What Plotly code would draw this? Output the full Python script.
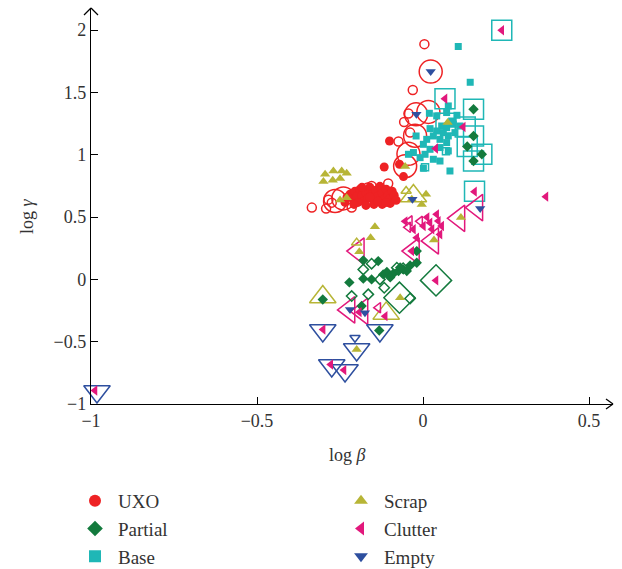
import plotly.graph_objects as go

# ---------------- data (log beta, log gamma) ----------------
# UXO
uxo_x = [-0.101, -0.117, -0.071, -0.059, -0.229, -0.220, -0.211, -0.205, -0.199, -0.190, -0.184, -0.178,
         -0.172, -0.166, -0.160, -0.154, -0.148, -0.142, -0.136, -0.130, -0.123, -0.117, -0.111, -0.105,
         -0.099, -0.093, -0.087, -0.196, -0.172, -0.148, -0.123, -0.099, -0.208, -0.160, -0.136, -0.111,
         -0.184, -0.081, -0.235]
uxo_y = [1.111, 0.902, 0.924, 0.825, 0.659, 0.683, 0.643, 0.707, 0.667, 0.723, 0.675, 0.627,
         0.699, 0.651, 0.739, 0.683, 0.635, 0.715, 0.667, 0.747, 0.691, 0.643, 0.723, 0.675,
         0.651, 0.707, 0.675, 0.618, 0.594, 0.602, 0.602, 0.610, 0.602, 0.659, 0.627, 0.618,
         0.739, 0.635, 0.618]
uxo_open_x = [0.004, -0.031, -0.057, -0.044, -0.074, -0.039, -0.105, -0.335, -0.292, -0.275, -0.215,
              -0.155, -0.167, -0.285]
uxo_open_y = [1.888, 1.520, 1.263, 1.331, 1.106, 1.178, 0.769, 0.576, 0.568, 0.616, 0.576,
              0.749, 0.737, 0.640]
uxo_ring_x = [0.023, -0.021, 0.016, -0.024, -0.044, -0.054, -0.265, -0.240]
uxo_ring_y = [1.668, 1.325, 1.344, 1.153, 1.008, 0.908, 0.629, 0.650]

# Partial
partial_x = [0.152, 0.152, 0.133, 0.177, 0.152, -0.180, -0.135, -0.222, -0.180, -0.155, -0.120, -0.109,
             -0.089, -0.074, -0.059, -0.049, -0.099, -0.019, -0.019, -0.185, -0.132, -0.302, -0.069, -0.039]
partial_y = [1.365, 1.151, 1.066, 1.004, 0.950, 0.153, 0.147, -0.024, 0.006, 0.000, 0.040, 0.059,
             0.048, 0.067, 0.080, 0.067, 0.016, 0.134, 0.227, -0.214, -0.410, -0.161, 0.096, 0.112]
partial_open_x = [-0.180, -0.155, -0.130, -0.117, -0.079, -0.215, -0.165, -0.039, -0.060]
partial_open_y = [0.080, 0.126, 0.000, -0.067, 0.094, -0.134, -0.120, -0.153, 0.090]
partial_ring_x = [0.039, -0.071]
partial_ring_y = [-0.008, -0.147]

# Base
base_x = [0.106, 0.142, 0.076, 0.019, 0.041, 0.071, 0.102, 0.086, 0.056, 0.071, 0.091, 0.111, 0.021,
          0.041, 0.061, 0.076, 0.096, -0.021, 0.011, 0.031, 0.051, 0.071, 0.001, 0.021, 0.051, 0.076,
          -0.029, -0.009, 0.031, 0.051, 0.001, 0.081, -0.044, 0.006]
base_y = [1.869, 1.582, 1.392, 1.333, 1.312, 1.339, 1.317, 1.271, 1.231, 1.218, 1.245, 1.231, 1.210,
          1.191, 1.178, 1.151, 1.178, 1.151, 1.124, 1.151, 1.124, 1.098, 1.084, 1.044, 1.058, 1.031,
          1.018, 0.977, 0.964, 0.950, 0.892, 0.870, 1.004, 1.004]
base_open_x = [0.069, 0.045, 0.006]
base_open_y = [1.028, 1.165, 0.900]
base_ring_x = [0.237, 0.066, 0.152, 0.069, 0.127, 0.152, 0.133, 0.177, 0.152, 0.155]
base_ring_y = [2.000, 1.450, 1.365, 1.253, 1.223, 1.151, 1.066, 1.004, 0.950, 0.707]

# Scrap
scrap_x = [-0.295, -0.270, -0.245, -0.230, -0.300, -0.272, -0.250, -0.250, -0.230, -0.054, 0.074,
           0.009, -0.004, -0.034, 0.114, 0.033, -0.145, -0.158, -0.192, -0.069, -0.200]
scrap_y = [0.843, 0.870, 0.870, 0.851, 0.785, 0.795, 0.809, 0.637, 0.656, 0.905, 1.259,
           0.683, 0.602, 0.643, 0.496, 0.317, 0.422, 0.335, 0.221, -0.147, -0.562]
scrap_open_x = [-0.051, -0.200]
scrap_open_y = [0.709, 0.295]
scrap_ring_x = [-0.029, -0.302, -0.111]
scrap_ring_y = [0.669, -0.141, -0.273]

# Clutter
clutter_x = [0.237, 0.066, 0.121, 0.038, 0.155, 0.370, -0.029, 0.001, 0.021, 0.046, 0.056, 0.041,
             -0.019, 0.051, -0.034, -0.054, 0.012, 0.027, 0.039, -0.114, -0.192, -0.301, -0.278,
             -0.238, -0.988]
clutter_y = [2.000, 1.450, 1.223, 1.050, 0.704, 0.664, 0.402, 0.428, 0.455, 0.468, 0.428, 0.522,
             0.335, 0.361, 0.227, 0.466, 0.498, 0.402, -0.008, -0.295, -0.263, -0.402, -0.683,
             -0.728, -0.892]
clutter_open_x = [-0.135, -0.045, -0.009, -0.040]
clutter_open_y = [-0.227, 0.418, 0.466, 0.470]
clutter_ring_x = [0.162, 0.108, 0.029, -0.029, -0.195, -0.223, -0.184]
clutter_ring_y = [0.576, 0.490, 0.309, 0.227, 0.227, -0.245, -0.257]

# Empty
empty_x = [0.023, -0.020, -0.032, 0.172, -0.220, -0.175]
empty_y = [1.668, 1.325, 0.643, 0.568, -0.241, -0.267]
empty_open_x = [-0.205]
empty_open_y = [-0.468]
empty_ring_x = [-0.302, -0.130, -0.200, -0.275, -0.235, -0.982]
empty_ring_y = [-0.410, -0.410, -0.562, -0.691, -0.731, -0.900]

x_ticks = [-1, -0.5, 0, 0.5]
x_tick_text = ["\u22121", "\u22120.5", "0", "0.5"]
y_ticks = [-1, -0.5, 0, 0.5, 1, 1.5, 2]
y_tick_text = ["\u22121", "\u22120.5", "0", "0.5", "1", "1.5", "2"]

# ---------------- styling ----------------
RED = "#ee2224"
GREEN = "#137a3d"
CYAN = "#1fb7b6"
OLIVE = "#b7b536"
MAGENTA = "#e2187c"
BLUE = "#2e4f9f"
FONT = "Liberation Serif"
TXT = "#333333"

classes = [
    ("UXO", "circle", RED, uxo_x, uxo_y, uxo_open_x, uxo_open_y, uxo_ring_x, uxo_ring_y, 9, 9, 23, "legend"),
    ("Partial", "diamond", GREEN, partial_x, partial_y, partial_open_x, partial_open_y, partial_ring_x, partial_ring_y, 8, 8, 24, "legend"),
    ("Base", "square", CYAN, base_x, base_y, base_open_x, base_open_y, base_ring_x, base_ring_y, 7, 7, 20, "legend"),
    ("Scrap", "triangle-up", OLIVE, scrap_x, scrap_y, scrap_open_x, scrap_open_y, scrap_ring_x, scrap_ring_y, 9, 9, 23, "legend2"),
    ("Clutter", "triangle-left", MAGENTA, clutter_x, clutter_y, clutter_open_x, clutter_open_y, clutter_ring_x, clutter_ring_y, 9, 9, 23, "legend2"),
    ("Empty", "triangle-down", BLUE, empty_x, empty_y, empty_open_x, empty_open_y, empty_ring_x, empty_ring_y, 9, 9, 23, "legend2"),
]

fig = go.Figure()

# large open markers first
for name, sym, col, fx, fy, ox, oy, rx, ry, fs, osz, rs, lg in classes:
    fig.add_trace(go.Scatter(x=rx, y=ry, mode="markers", showlegend=False, cliponaxis=False,
                             marker=dict(symbol=sym + "-open", size=rs, color=col,
                                         line=dict(width=1.5, color=col)),
                             hoverinfo="skip"))
# small open markers
for name, sym, col, fx, fy, ox, oy, rx, ry, fs, osz, rs, lg in classes:
    fig.add_trace(go.Scatter(x=ox, y=oy, mode="markers", showlegend=False, cliponaxis=False,
                             marker=dict(symbol=sym + "-open", size=osz, color=col,
                                         line=dict(width=1.5, color=col)),
                             hoverinfo="skip"))
# filled markers (with legend)
for name, sym, col, fx, fy, ox, oy, rx, ry, fs, osz, rs, lg in classes:
    fig.add_trace(go.Scatter(x=fx, y=fy, mode="markers", name=name, cliponaxis=False,
                             legend=lg,
                             marker=dict(symbol=sym, size=fs, color=col, line=dict(width=0))))

# axis arrowheads (paper coordinates)
W, H = 522.0, 396.0
ax, ay = 7 / W, 7 / H
bx, by = 7 / W, 5 / H
shapes = [
    dict(type="line", xref="paper", yref="paper", x0=0, y0=1, x1=-ax, y1=1 - ay, line=dict(color="black", width=1.3)),
    dict(type="line", xref="paper", yref="paper", x0=0, y0=1, x1=ax, y1=1 - ay, line=dict(color="black", width=1.3)),
    dict(type="line", xref="paper", yref="paper", x0=1, y0=0, x1=1 - bx, y1=by, line=dict(color="black", width=1.3)),
    dict(type="line", xref="paper", yref="paper", x0=1, y0=0, x1=1 - bx, y1=-by, line=dict(color="black", width=1.3)),
]

FW, FH = 622.0, 569.0
fig.update_layout(
    width=622, height=569,
    margin=dict(l=91, r=9, t=8, b=165, autoexpand=False),
    paper_bgcolor="white", plot_bgcolor="white",
    font=dict(family=FONT, size=17, color=TXT),
    shapes=shapes,
    xaxis=dict(range=[-1, 0.572], showgrid=False, zeroline=False, showline=True, linecolor="black",
               linewidth=1.3, ticks="inside", ticklen=7, tickcolor="black", tickwidth=1.3,
               tickvals=x_ticks, ticktext=x_tick_text, tickfont=dict(family=FONT, size=18, color=TXT)),
    yaxis=dict(range=[-1, 2.178], showgrid=False, zeroline=False, showline=True, linecolor="black",
               linewidth=1.3, ticks="inside", ticklen=7, tickcolor="black", tickwidth=1.3,
               tickvals=y_ticks, ticktext=y_tick_text, tickfont=dict(family=FONT, size=18, color=TXT)),
    annotations=[
        dict(text="log <i>γ</i>", xref="paper", yref="paper", x=(27 - 91) / W, y=(404 - 216) / H,
             xanchor="center", yanchor="middle",
             showarrow=False, textangle=-90, font=dict(family=FONT, size=18, color=TXT)),
        dict(text="log <i>β</i>", xref="paper", yref="paper", x=(347 - 91) / W, y=(404 - 455) / H,
             xanchor="center", yanchor="middle",
             showarrow=False, font=dict(family=FONT, size=18, color=TXT)),
    ],
    legend=dict(xref="container", yref="container", x=(97 - 25) / FW, y=1 - 482 / FH,
                xanchor="left", yanchor="top",
                itemsizing="constant", itemwidth=36, tracegroupgap=0, bgcolor="rgba(0,0,0,0)",
                font=dict(family=FONT, size=19, color=TXT)),
    legend2=dict(xref="container", yref="container", x=(363 - 25) / FW, y=1 - 482 / FH,
                 xanchor="left", yanchor="top",
                 itemsizing="constant", itemwidth=36, tracegroupgap=0, bgcolor="rgba(0,0,0,0)",
                 font=dict(family=FONT, size=19, color=TXT)),
)

fig.write_html("out.html")
